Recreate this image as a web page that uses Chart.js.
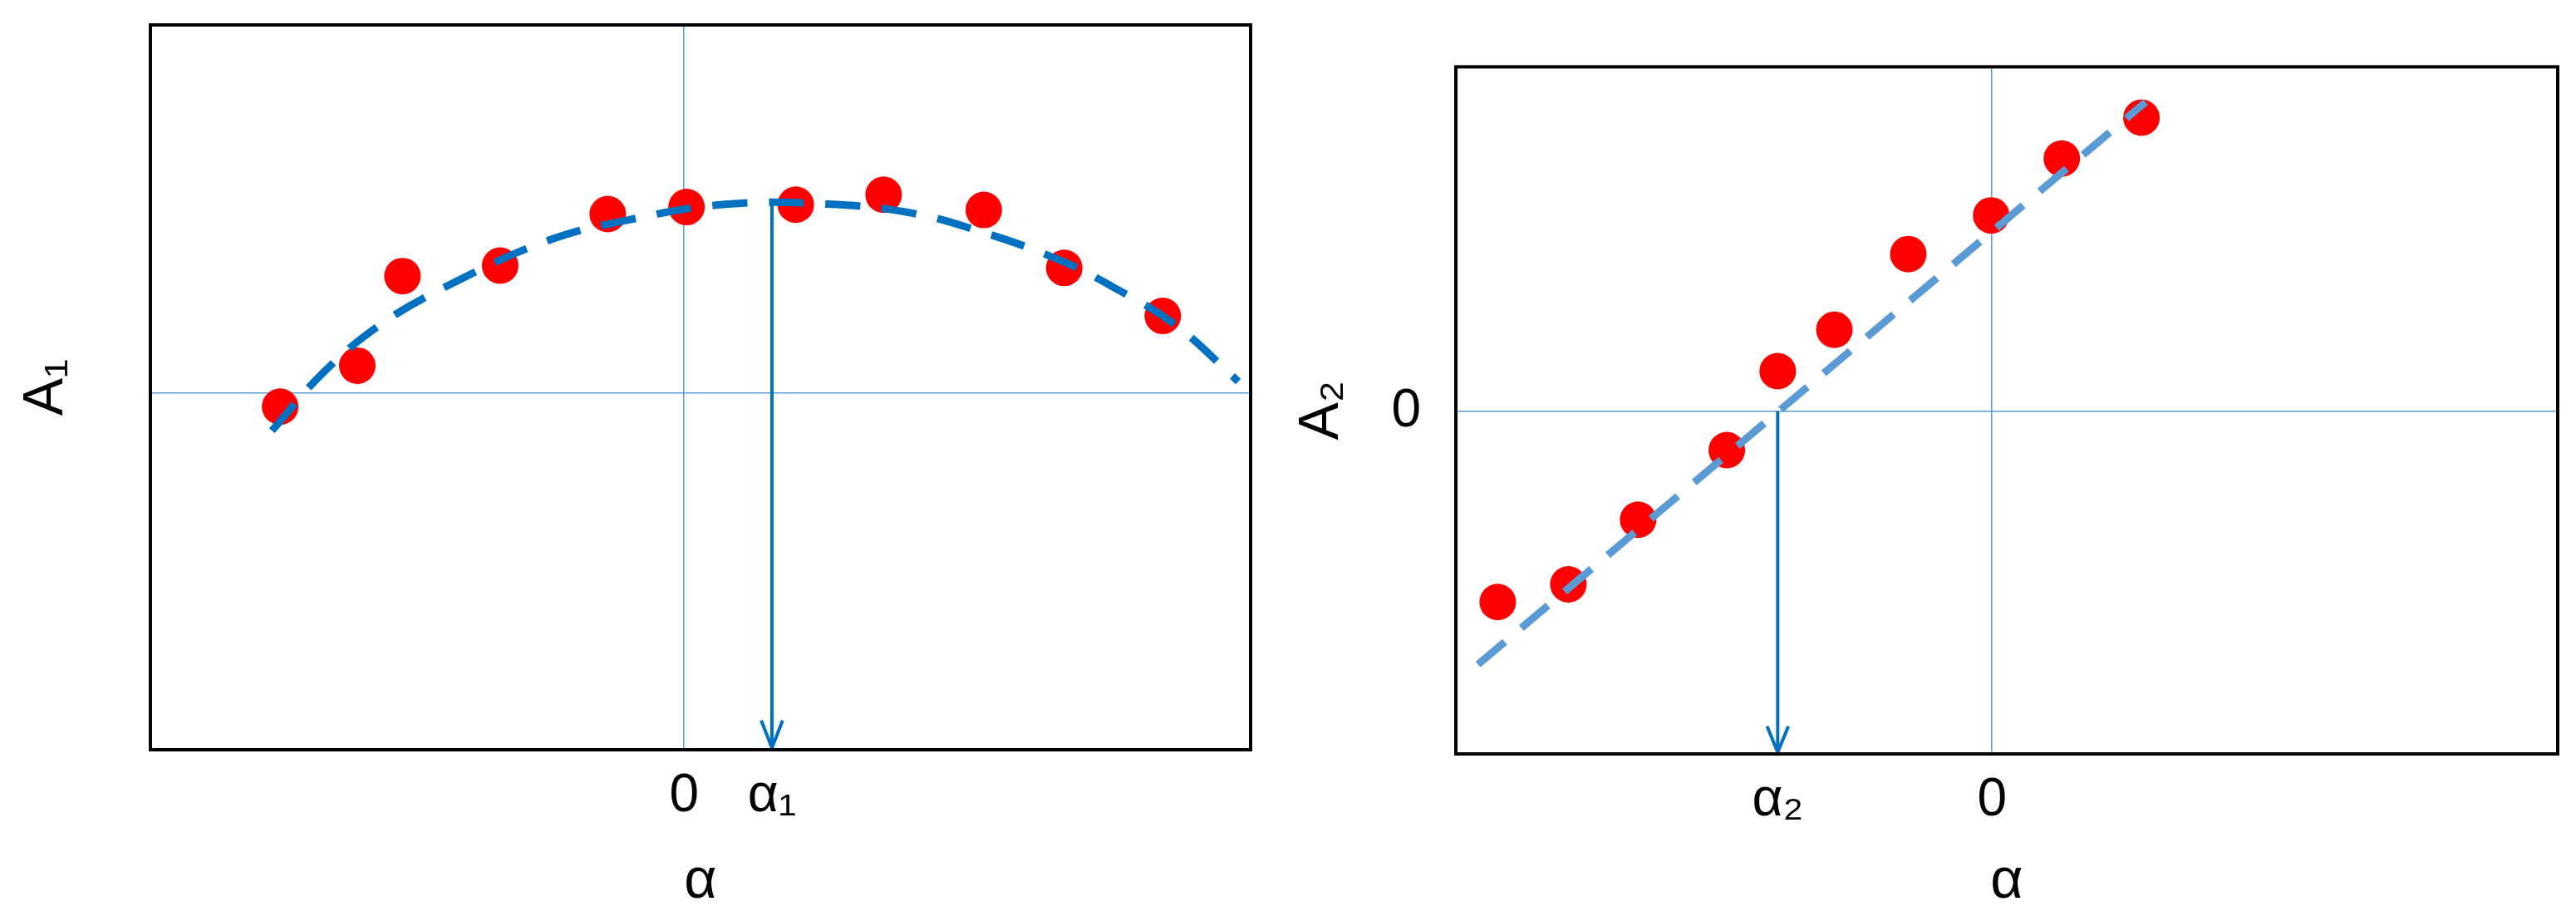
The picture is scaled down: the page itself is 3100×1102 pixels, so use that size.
<!DOCTYPE html>
<html>
<head>
<meta charset="utf-8">
<script src="https://cdn.jsdelivr.net/npm/chart.js@4"></script>
<style>
  body { margin: 0; background: #fff; }
  .panel { position: absolute; top: 0; width: 1550px; height: 1102px; }
</style>
</head>
<body>
<div class="panel" style="left:0"><canvas id="c1" width="1550" height="1102"></canvas></div>
<div class="panel" style="left:1550px"><canvas id="c2" width="1550" height="1102"></canvas></div>
<script>
// left panel: measured points and fitted parabola
const a1X = [-49.2, -39.8, -34.3, -22.4, -9.3, 0.3, 13.6, 24.3, 36.5, 46.3, 58.3];
const a1Y = [-2.3, 4.7, 20.0, 21.8, 30.6, 31.8, 32.2, 33.9, 31.3, 21.4, 13.2];
const fit1X = [-50.2, -44.1, -37.1, -29.0, -16.9, -6.8, 5.4, 17.5, 27.6, 35.7, 45.8, 52.8, 59.9, 67.5];
const fit1Y = [-6.4, 3.3, 11.6, 18.2, 25.9, 29.6, 32.3, 32.3, 30.8, 27.8, 22.7, 17.7, 11.6, 2.0];
const alpha1 = 10.7;

// right panel: measured points and fitted line
const a2X = [-60.2, -51.6, -43.1, -32.3, -26.1, -19.2, -10.2, -0.1, 8.5, 18.2];
const a2Y = [-34.5, -31.3, -19.6, -7.0, 7.3, 14.8, 28.5, 35.5, 45.8, 53.2];
const fit2X = [-62.6, 18.7];
const fit2Y = [-45.8, 56.0];
const alpha2 = -26.1;

const FONT = "'Liberation Sans', 'DejaVu Sans', sans-serif";
const zip = (xs, ys) => xs.map((x, i) => ({ x: x, y: ys[i] }));

const frame = {
  id: 'frame',
  afterDraw(chart) {
    const a = chart.chartArea, c = chart.ctx;
    c.save();
    c.strokeStyle = '#000';
    c.lineWidth = 4;
    c.strokeRect(a.left, a.top, a.right - a.left, a.bottom - a.top);
    c.restore();
  }
};

function makeChart(id, o) {
  const arrowTop = o.arrowFrom;
  const bottom = o.yRange[0];
  new Chart(document.getElementById(id), {
    type: 'scatter',
    data: {
      datasets: [
        { data: zip(o.px, o.py), backgroundColor: '#FF0000', borderWidth: 0, pointRadius: 22, order: 2 },
        { type: 'line', data: zip(o.fx, o.fy), borderColor: o.fitColor, borderWidth: 9,
          borderDash: [42, 26], pointRadius: 0, tension: 0.4, fill: false, order: 1 },
        { type: 'line', data: [{ x: o.alpha, y: arrowTop }, { x: o.alpha, y: bottom + 0.3 }],
          borderColor: '#0070C0', borderWidth: 4, pointRadius: 0, order: 0 },
        { type: 'line', data: [{ x: o.alpha - 1.3, y: bottom + 5 }, { x: o.alpha, y: bottom + 0.3 }, { x: o.alpha + 1.3, y: bottom + 5 }],
          borderColor: '#0070C0', borderWidth: 4, pointRadius: 0, order: 0 }
      ]
    },
    options: {
      responsive: false,
      animation: false,
      layout: { padding: { top: o.top, right: o.right, left: 0, bottom: 0 } },
      plugins: { legend: { display: false }, tooltip: { enabled: false } },
      scales: {
        x: {
          type: 'linear', min: o.xRange[0], max: o.xRange[1],
          afterBuildTicks: s => { s.ticks = o.xTicks.map(v => ({ value: v })); },
          afterFit: s => { s.height = o.xAxisH; },
          ticks: { callback: (v, i) => o.xLabels[i], font: { family: FONT, size: 64 }, color: '#000', padding: 18, maxRotation: 0 },
          grid: { drawTicks: false, lineWidth: 1.5, color: c => c.tick && c.tick.value === 0 ? '#5B9BD5' : 'rgba(0,0,0,0)' },
          border: { display: false },
          title: { display: true, text: 'α', font: { family: FONT, size: 68 }, color: '#000', padding: { top: 0, bottom: 0 } }
        },
        y: {
          type: 'linear', min: o.yRange[0], max: o.yRange[1],
          afterBuildTicks: s => { s.ticks = [{ value: 0 }]; },
          afterFit: s => { s.width = o.yAxisW; },
          ticks: { display: o.yZero, callback: () => '0', font: { family: FONT, size: 64 }, color: '#000', padding: 42 },
          grid: { drawTicks: false, lineWidth: 1.5, color: c => c.tick && c.tick.value === 0 ? '#5B9BD5' : 'rgba(0,0,0,0)' },
          border: { display: false },
          title: { display: true, text: o.yTitle, font: { family: FONT, size: 68 }, color: '#000', padding: { top: o.yTitlePad, bottom: 0 } }
        }
      }
    },
    plugins: [frame]
  });
}

makeChart('c1', {
  px: a1X, py: a1Y, fx: fit1X, fy: fit1Y, fitColor: '#0070C0',
  alpha: alpha1, arrowFrom: 32.3,
  xRange: [-65, 69], yRange: [-60.9, 62.9],
  xTicks: [0, alpha1], xLabels: ['0', 'α₁'],
  yTitle: 'A₁', yZero: false, yTitlePad: 15,
  top: 30, right: 45, xAxisH: 200, yAxisW: 181
});

makeChart('c2', {
  px: a2X, py: a2Y, fx: fit2X, fy: fit2Y, fitColor: '#5B9BD5',
  alpha: alpha2, arrowFrom: 0,
  xRange: [-65.3, 68.9], yRange: [-62, 62.4],
  xTicks: [alpha2, 0], xLabels: ['α₂', '0'],
  yTitle: 'A₂', yZero: true, yTitlePad: 0,
  top: 22, right: 20, xAxisH: 195, yAxisW: 202
});
</script>
</body>
</html>
